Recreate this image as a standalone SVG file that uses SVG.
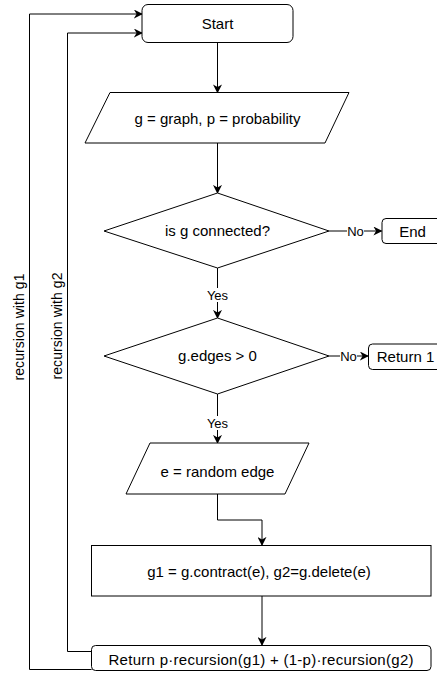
<svg xmlns="http://www.w3.org/2000/svg" width="437" height="673" viewBox="0 0 437 673">
  <defs>
    <marker id="arrow" viewBox="0 0 10 10" refX="9" refY="5" markerWidth="9" markerHeight="9" markerUnits="userSpaceOnUse" orient="auto">
      <path d="M0,0 L10,5 L0,10 L3,5 Z" fill="#000"/>
    </marker>
  </defs>
  <style>
    .shape { fill: #fff; stroke: #000; stroke-width: 1; }
    .edge { fill: none; stroke: #000; stroke-width: 1; marker-end: url(#arrow); }
    text { font-family: "Liberation Sans", Arial, sans-serif; font-size: 15px; fill: #000; text-anchor: middle; dominant-baseline: central; }
    .lbl { font-size: 13px; }
    .side { font-size: 14px; }
    .bg { fill: #fff; }
  </style>

  <!-- connectors -->
  <g id="connectors">
    <path class="edge" d="M217.5,42.5 L217.5,92.5"/>
    <path class="edge" d="M217.5,143 L217.5,193"/>
    <path class="edge" d="M329,231 L381.5,231"/>
    <path class="edge" d="M217.5,268 L217.5,318"/>
    <path class="edge" d="M329,356 L368,356"/>
    <path class="edge" d="M217.5,394 L217.5,443"/>
    <path class="edge" d="M217.5,494 L217.5,520 L262,520 L262,545"/>
    <path class="edge" d="M262,596 L262,645"/>
    <path class="edge" d="M91.5,669.5 L29.5,669.5 L29.5,14 L142,14"/>
    <path class="edge" d="M91.5,651.5 L67.5,651.5 L67.5,33 L142,33"/>
    <!-- edge labels -->
    <rect class="bg" x="347" y="224" width="17" height="14"/>
    <text class="lbl" x="355.5" y="231">No</text>
    <rect class="bg" x="340" y="349" width="17" height="14"/>
    <text class="lbl" x="348.5" y="356">No</text>
    <rect class="bg" x="205" y="288" width="25" height="14"/>
    <text class="lbl" x="217.5" y="295">Yes</text>
    <rect class="bg" x="205" y="416" width="25" height="14"/>
    <text class="lbl" x="217.5" y="423">Yes</text>
    <text class="side" transform="translate(18.5,327) rotate(-90)" textLength="107" lengthAdjust="spacing">recursion with g1</text>
    <text class="side" transform="translate(57,326) rotate(-90)" textLength="107" lengthAdjust="spacing">recursion with g2</text>
  </g>

  <g id="start">
    <rect class="shape" x="142" y="4.5" width="151" height="38" rx="6"/>
    <text x="217.5" y="23.5">Start</text>
  </g>

  <g id="input">
    <polygon class="shape" points="110,92.5 349,92.5 325,143 85,143"/>
    <text x="217.5" y="118">g = graph, p = probability</text>
  </g>

  <g id="connected">
    <polygon class="shape" points="217.5,193 329,231 217.5,268 104,231"/>
    <text x="217.5" y="230">is g connected?</text>
  </g>

  <g id="end">
    <rect class="shape" x="382" y="218.5" width="60" height="25" rx="4"/>
    <text x="412.5" y="231">End</text>
  </g>

  <g id="edges">
    <polygon class="shape" points="217.5,318 329,356 217.5,394 104,356"/>
    <text x="217.5" y="355">g.edges &gt; 0</text>
  </g>

  <g id="return1">
    <rect class="shape" x="368.5" y="344" width="76" height="25.5" rx="4"/>
    <text x="405.5" y="356.5">Return 1</text>
  </g>

  <g id="random-edge">
    <polygon class="shape" points="150,443 309,443 285,494 126,494"/>
    <text x="217.5" y="471">e = random edge</text>
  </g>

  <g id="split">
    <rect class="shape" x="91.5" y="545.5" width="339.5" height="50.5"/>
    <text x="259" y="571.5">g1 = g.contract(e), g2=g.delete(e)</text>
  </g>

  <g id="return">
    <rect class="shape" x="91.5" y="645.5" width="339.5" height="25" rx="4"/>
    <text x="261" y="659" textLength="305" lengthAdjust="spacing">Return p·recursion(g1) + (1-p)·recursion(g2)</text>
  </g>
</svg>
